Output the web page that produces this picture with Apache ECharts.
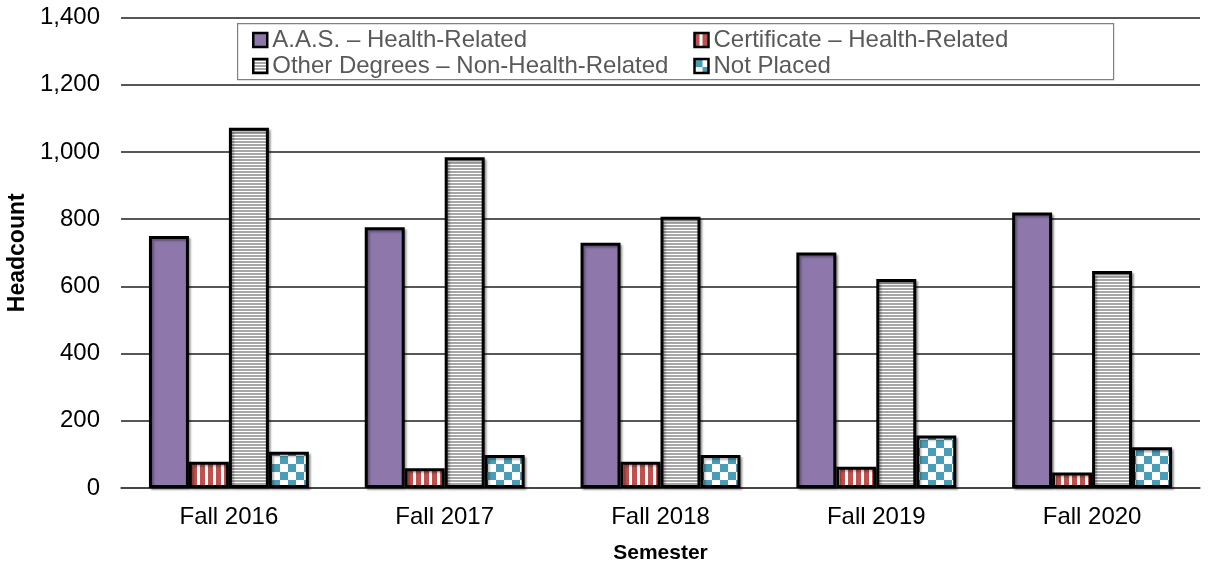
<!DOCTYPE html>
<html>
<head>
<meta charset="utf-8">
<script src="https://cdn.jsdelivr.net/npm/echarts@6/dist/echarts.min.js"></script>
<style>
  html, body { margin: 0; padding: 0; background: #fff; }
  #chart { width: 1209px; height: 567px; }
</style>
</head>
<body>
<div id="chart"></div>
<script>
// Headcount by semester and program group
const semesters = ['Fall 2016', 'Fall 2017', 'Fall 2018', 'Fall 2019', 'Fall 2020'];
const aasHealth = [750, 776, 730, 701, 820];
const certHealth = [78, 59, 78, 63, 46];
const otherNonHealth = [1072, 984, 807, 622, 646];
const notPlaced = [108, 98, 98, 156, 121];
const seriesNames = [
  'A.A.S. – Health-Related',
  'Certificate – Health-Related',
  'Other Degrees – Non-Health-Related',
  'Not Placed'
];
const yTicks = [0, 200, 400, 600, 800, 1000, 1200, 1400];

// Fill patterns built on small canvases
function makePattern(w, h, paint) {
  const c = document.createElement('canvas');
  c.width = w; c.height = h;
  const ctx = c.getContext('2d');
  ctx.fillStyle = '#ffffff';
  ctx.fillRect(0, 0, w, h);
  paint(ctx);
  return { image: c, repeat: 'repeat' };
}
const redStripes = makePattern(8, 8, ctx => {
  ctx.fillStyle = '#C0504D';
  ctx.fillRect(0, 0, 5, 8);
});
const grayLines = makePattern(4, 3, ctx => {
  ctx.fillStyle = '#A6A6A6';
  ctx.fillRect(0, 0, 4, 2);
});
const tealChecks = makePattern(16, 16, ctx => {
  ctx.fillStyle = '#4A9DB6';
  ctx.fillRect(0, 0, 8, 8);
  ctx.fillRect(8, 8, 8, 8);
});

const fills = ['#8D77AB', redStripes, grayLines, tealChecks];
const values = [aasHealth, certHealth, otherNonHealth, notPlaced];

const chart = echarts.init(document.getElementById('chart'), null, { renderer: 'canvas' });

const series = seriesNames.map((name, i) => ({
  name: name,
  type: 'bar',
  data: values[i],
  barGap: '0%',
  barCategoryGap: '25.9%',
  itemStyle: {
    color: fills[i],
    borderColor: '#000000',
    borderWidth: 3,
    shadowColor: 'rgba(0,0,0,0.3)',
    shadowBlur: 2,
    shadowOffsetX: 2,
    shadowOffsetY: 2
  },
  emphasis: { disabled: true }
}));

chart.setOption({
  animation: false,
  backgroundColor: '#ffffff',
  textStyle: { fontFamily: 'Liberation Sans, Arial, sans-serif' },
  grid: { left: 121, right: 9, top: 17.5, bottom: 79, containLabel: false, outerBoundsMode: 'none' },
  legend: {
    data: seriesNames,
    left: 252,
    top: 28,
    width: 930,
    orient: 'horizontal',
    itemWidth: 14,
    itemHeight: 14,
    itemGap: 2,
    icon: 'rect',
    padding: 0,
    textStyle: {
      color: '#595959',
      fontSize: 24,
      width: 419,
      lineHeight: 21
    },
    itemStyle: { borderWidth: 2.5, borderColor: '#000', shadowBlur: 0, shadowOffsetX: 0, shadowOffsetY: 0 }
  },
  graphic: [{
    type: 'rect',
    left: 237,
    top: 23,
    z: -1,
    shape: { width: 876, height: 56 },
    style: { fill: '#ffffff', stroke: '#808080', lineWidth: 1.2 }
  }],
  xAxis: {
    type: 'category',
    data: semesters,
    name: 'Semester',
    nameLocation: 'middle',
    nameGap: 55,
    nameTextStyle: { fontSize: 21, fontWeight: 'bold', color: '#000' },
    axisLine: { show: true, lineStyle: { color: '#404040', width: 1.5 } },
    axisTick: { show: false },
    axisLabel: { fontSize: 24, color: '#000', margin: 17 }
  },
  yAxis: {
    type: 'value',
    min: yTicks[0],
    max: yTicks[yTicks.length - 1],
    interval: yTicks[1] - yTicks[0],
    name: 'Headcount',
    nameLocation: 'middle',
    nameGap: 87,
    nameRotate: 90,
    nameTextStyle: { fontSize: 23, fontWeight: 'bold', color: '#000' },
    axisLine: { show: false },
    axisTick: { show: false },
    axisLabel: {
      fontSize: 24,
      color: '#000',
      margin: 21,
      formatter: v => v.toLocaleString('en-US')
    },
    splitLine: { show: true, lineStyle: { color: '#1f1f1f', width: 1.5 } }
  },
  series: series
});
</script>
</body>
</html>
